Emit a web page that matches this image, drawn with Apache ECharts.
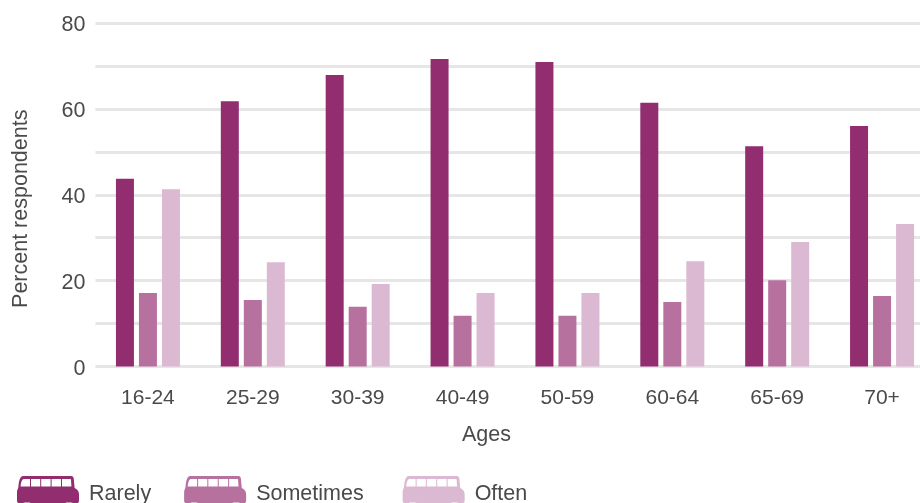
<!DOCTYPE html>
<html>
<head>
<meta charset="utf-8">
<style>html,body{margin:0;padding:0;background:#fff}#chart{width:920px;height:503px}</style>
<script src="https://cdn.jsdelivr.net/npm/echarts@6/dist/echarts.min.js"></script>
</head>
<body>
<div id="chart"></div>
<script>
const ageGroups = ['16-24', '25-29', '30-39', '40-49', '50-59', '60-64', '65-69', '70+'];
const rarely = [43.7, 61.8, 67.9, 71.6, 70.9, 61.4, 51.3, 56.0];
const sometimes = [17.1, 15.5, 13.9, 11.8, 11.8, 15.0, 20.1, 16.4];
const often = [41.3, 24.3, 19.2, 17.1, 17.1, 24.5, 29.0, 33.2];
const seriesNames = ['Rarely', 'Sometimes', 'Often'];
const seriesColors = ['#922d6f', '#b7719f', '#dcb9d2'];

// Double-decker bus used as the legend key: body outline, then five window cut-outs.
const busIcon = 'path://M6 0 L54 0 C56 0 56.6 1 56.8 3 L57.6 12 C60 13 62 15 62 18 L62 25 C62 26.5 61 27 60 27 L56 27 C54 26.4 50 26.4 48 27 L14 27 C12 26.4 8 26.4 6 27 L2 27 C1 27 0 26.5 0 25 L0 16 C0 14 1 13 1.4 11 C1.8 5 3 0 6 0 Z ' +
  'M3.6 10.6 L13 10.6 L13 3 L7 3 C5 3 4 6 3.6 10.6 Z M14 3 L14 10.6 L23.2 10.6 L23.2 3 Z M24.2 3 L24.2 10.6 L33.6 10.6 L33.6 3 Z M34.6 3 L34.6 10.6 L44 10.6 L44 3 Z M45 3 L45 10.6 L54.4 10.6 L54 4 C54 3.4 53.6 3 53 3 Z';

const textColor = '#4a4a4a';
const fontFamily = '"Liberation Sans", Arial, sans-serif';
const fontSize = 21.5;

const chart = echarts.init(document.getElementById('chart'), null, { renderer: 'canvas' });
chart.setOption({
  animation: false,
  backgroundColor: '#ffffff',
  textStyle: { fontFamily: fontFamily, color: textColor },
  grid: { left: 95.5, top: 23, width: 839, height: 343.5, outerBoundsMode: 'none' },
  legend: {
    left: 17,
    top: 476,
    padding: 0,
    itemWidth: 62,
    itemHeight: 27,
    itemGap: 33,
    icon: busIcon,
    data: seriesNames,
    // The middle entry carries a small spacer so the last key sits a little further right.
    formatter: name => (name === 'Sometimes' ? `{plain|${name}}{gap| }` : `{plain|${name}}`),
    textStyle: {
      fontFamily: fontFamily,
      color: textColor,
      fontSize: fontSize,
      rich: {
        plain: { fontFamily: fontFamily, color: textColor, fontSize: fontSize, padding: [10, 0, 0, 5] },
        gap: { fontSize: fontSize, width: 5, padding: [10, 0, 0, 0] }
      }
    }
  },
  xAxis: {
    type: 'category',
    data: ageGroups,
    name: 'Ages',
    nameLocation: 'middle',
    nameGap: 58,
    nameTextStyle: { fontSize: fontSize, color: textColor, fontFamily: fontFamily, padding: [0, 57, 0, 0] },
    axisLine: { show: false },
    axisTick: { show: false },
    axisLabel: { fontSize: 21, color: textColor, margin: 21, fontFamily: fontFamily },
    splitLine: { show: false }
  },
  yAxis: {
    type: 'value',
    min: 0,
    max: 80,
    interval: 10,
    name: 'Percent respondents',
    nameLocation: 'middle',
    nameGap: 63,
    nameTextStyle: { fontSize: fontSize, color: textColor, fontFamily: fontFamily, padding: [0, 28, 0, 0] },
    axisLine: { show: false },
    axisTick: { show: false },
    axisLabel: {
      fontSize: fontSize,
      color: textColor,
      margin: 10,
      fontFamily: fontFamily,
      formatter: v => (v % 20 === 0 ? `{tick|${v}}` : ''),
      rich: { tick: { fontFamily: fontFamily, color: textColor, fontSize: fontSize, padding: [5, 0, 0, 0] } }
    },
    splitLine: { show: true, lineStyle: { color: '#e6e6e6', width: 3 } }
  },
  series: [rarely, sometimes, often].map((values, i) => ({
    name: seriesNames[i],
    type: 'bar',
    data: values,
    barWidth: 18,
    barGap: '27.8%',
    itemStyle: { color: seriesColors[i] }
  }))
});
</script>
</body>
</html>
